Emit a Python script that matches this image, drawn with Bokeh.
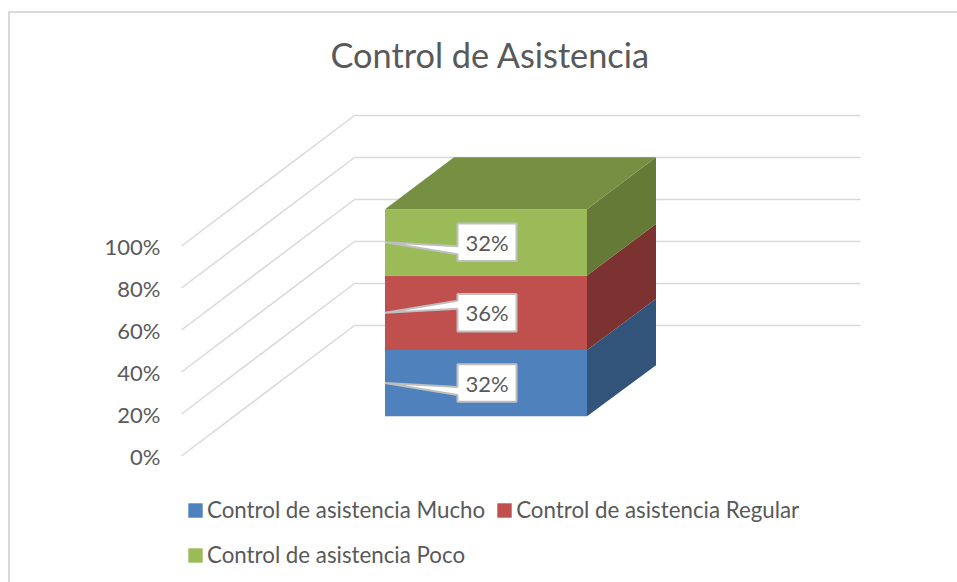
from bokeh.plotting import figure
from bokeh.models import (Legend, LegendItem, FixedTicker,
                          NumeralTickFormatter, Range1d)
from bokeh.core.properties import value
from bokeh.embed import file_html
from bokeh.resources import INLINE

# ---- chart data
title_text = "Control de Asistencia"
series = ["Control de asistencia Mucho", "Control de asistencia Regular", "Control de asistencia Poco"]
values = [32, 36, 32]
y_ticks = [0, 20, 40, 60, 80, 100]
front_colors = ["#4F81BD", "#C0504D", "#9BBB59"]
side_colors = ["#32547B", "#7B3230", "#657A36"]
top_color = "#778F43"
FONT = "Lato"
TEXT = "#595959"
GRID = "#D9D9D9"

# ---- layout in page pixels
W, H = 957, 582
FRAME_L, FRAME_T, FRAME_B = 165, 92, 582
PX = 2.1            # pixels per percent on the wall
ORIGIN_X, ORIGIN_Y = 181, 455.5
DEPTH_X, DEPTH_PCT = 173, 130.5 / PX
WALL_R = 860
BAR_L, BAR_R = 384.5, 586.5


def wall(v, d):
    """value v at depth fraction d -> (x, y data)"""
    return ORIGIN_X + DEPTH_X * d, v + DEPTH_PCT * d


p = figure(width=W, height=H, output_backend="svg", toolbar_location=None,
           x_range=Range1d(FRAME_L, W),
           y_range=Range1d((ORIGIN_Y - FRAME_B) / PX, (ORIGIN_Y - FRAME_T) / PX),
           x_axis_type=None, min_border_left=FRAME_L, min_border_right=0,
           min_border_top=FRAME_T, min_border_bottom=0)
p.outline_line_color = None
p.grid.visible = False
p.background_fill_color = None
p.border_fill_color = None
# chart-area border: left and top hairlines painted behind the transparent figure
p.styles = {
    "background-color": "white",
    "background-image": f"linear-gradient({GRID},{GRID}),linear-gradient({GRID},{GRID})",
    "background-size": "2px 572px,949px 2px",
    "background-position": "8px 11px,8px 11px",
    "background-repeat": "no-repeat",
}

p.title.text = title_text
p.title.text_font = FONT
p.title.text_font_size = "34.3px"
p.title.text_font_style = "normal"
p.title.text_color = TEXT
p.title.align = "left"
p.title.offset = 165
p.title.standoff = 35

ax = p.yaxis[0]
ax.ticker = FixedTicker(ticks=y_ticks)
ax.formatter = NumeralTickFormatter(format="0%")
ax.major_label_overrides = {t: f"{t}%" for t in y_ticks}
ax.axis_line_color = None
ax.major_tick_line_color = None
ax.minor_tick_line_color = None
ax.major_tick_out = 0
ax.major_label_text_font = FONT
ax.major_label_text_font_size = "22px"
ax.major_label_text_color = TEXT
ax.major_label_standoff = 5

# gridlines on side wall and back wall
for t in y_ticks:
    x0, y0 = wall(t, 0)
    x1, y1 = wall(t, 1)
    p.line([x0, x1, WALL_R], [y0, y1, y1], line_color=GRID, line_width=1.5)

# box: front face at depth d0, back at depth d1, slightly smaller per-cent scale
d0, d1 = 40 / 131, 91 / 131
S0, S1 = 207 / 210, 208 / 210
depth_dx = 69
base0 = wall(0, d0)[1]
base1 = wall(0, d1)[1]

cum = 0
items = []
mids = []
for name, v, fc, sc in zip(series, values, front_colors, side_colors):
    lo, hi = cum, cum + v
    cum = hi
    p.patch([BAR_R, BAR_R + depth_dx, BAR_R + depth_dx, BAR_R],
            [base0 + lo * S0, base1 + lo * S1, base1 + hi * S1, base0 + hi * S0],
            fill_color=sc, line_color=None)
    r = p.quad(left=[BAR_L], right=[BAR_R], bottom=[base0 + lo * S0], top=[base0 + hi * S0],
               fill_color=fc, line_color=None)
    items.append(LegendItem(label=name, renderers=[r]))
    mids.append(base0 + (lo + hi) / 2 * S0)

p.patch([BAR_L, BAR_R, BAR_R + depth_dx, BAR_L + depth_dx],
        [base0 + cum * S0, base0 + cum * S0, base1 + cum * S1, base1 + cum * S1],
        fill_color=top_color, line_color=None)

# data labels: one callout outline each (box plus wedge to the bar centre)
BOX_L, BOX_R = 457, 516
BOX_H = 37.5 / PX
wedge = [(4, 12), (-12, -4), (4, 12)]
for v, m, (a, b) in zip(values, mids, wedge):
    top, bot = m + BOX_H / 2, m - BOX_H / 2
    p.patch([BOX_L, BOX_R, BOX_R, BOX_L, BOX_L, BAR_L, BOX_L],
            [top, top, bot, bot, m - b / PX, m, m - a / PX],
            fill_color="white", line_color="#BFBFBF", line_width=2)
    p.text(x=[(BOX_L + BOX_R) / 2], y=[m], text=[f"{v}%"], text_font=value(FONT),
           text_font_size="22px", text_color=TEXT, text_align="center", text_baseline="middle")

legend = Legend(items=items, orientation="horizontal", ncols=2,
                location=(21, 10), border_line_color=None,
                background_fill_alpha=0, glyph_width=18, glyph_height=18, spacing=10,
                label_height=35, label_text_font=FONT, label_text_font_size="22.3px",
                label_text_color=TEXT, margin=0, padding=0, label_standoff=3)
p.add_layout(legend)

open("out.html", "w").write(file_html(p, INLINE))
